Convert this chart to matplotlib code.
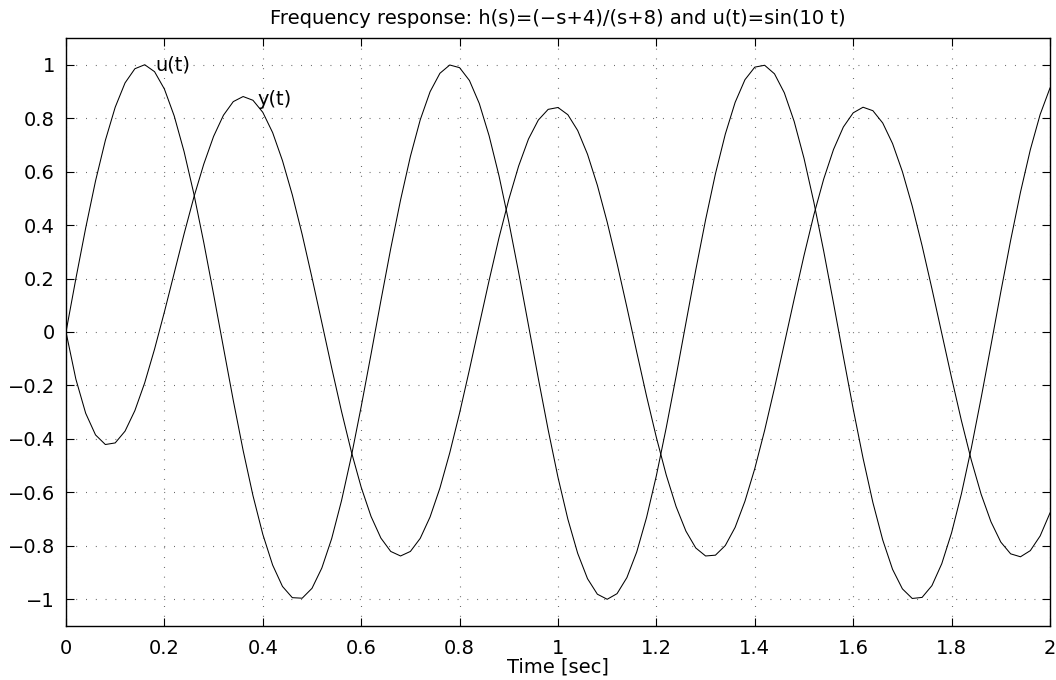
"""Frequency response of h(s)=(-s+4)/(s+8) driven by u(t)=sin(10 t), MATLAB-style look."""

import matplotlib
matplotlib.use("Agg")
import matplotlib.pyplot as plt

# sample times [sec]
t = [
    0.00, 0.02, 0.04, 0.06, 0.08, 0.10, 0.12, 0.14, 0.16, 0.18,
    0.20, 0.22, 0.24, 0.26, 0.28, 0.30, 0.32, 0.34, 0.36, 0.38,
    0.40, 0.42, 0.44, 0.46, 0.48, 0.50, 0.52, 0.54, 0.56, 0.58,
    0.60, 0.62, 0.64, 0.66, 0.68, 0.70, 0.72, 0.74, 0.76, 0.78,
    0.80, 0.82, 0.84, 0.86, 0.88, 0.90, 0.92, 0.94, 0.96, 0.98,
    1.00, 1.02, 1.04, 1.06, 1.08, 1.10, 1.12, 1.14, 1.16, 1.18,
    1.20, 1.22, 1.24, 1.26, 1.28, 1.30, 1.32, 1.34, 1.36, 1.38,
    1.40, 1.42, 1.44, 1.46, 1.48, 1.50, 1.52, 1.54, 1.56, 1.58,
    1.60, 1.62, 1.64, 1.66, 1.68, 1.70, 1.72, 1.74, 1.76, 1.78,
    1.80, 1.82, 1.84, 1.86, 1.88, 1.90, 1.92, 1.94, 1.96, 1.98,
    2.00,
]

# input u(t)
u = [
    0.000, 0.199, 0.389, 0.565, 0.717, 0.841, 0.932, 0.985, 1.000, 0.974,
    0.909, 0.808, 0.675, 0.516, 0.335, 0.141, -0.058, -0.256, -0.443, -0.612,
    -0.757, -0.872, -0.952, -0.994, -0.996, -0.959, -0.883, -0.773, -0.631, -0.465,
    -0.279, -0.083, 0.117, 0.312, 0.494, 0.657, 0.794, 0.899, 0.968, 0.999,
    0.989, 0.941, 0.855, 0.734, 0.585, 0.412, 0.223, 0.025, -0.174, -0.366,
    -0.544, -0.700, -0.828, -0.923, -0.981, -1.000, -0.979, -0.919, -0.823, -0.694,
    -0.537, -0.358, -0.166, 0.034, 0.232, 0.420, 0.592, 0.740, 0.859, 0.944,
    0.991, 0.998, 0.966, 0.895, 0.788, 0.650, 0.486, 0.303, 0.108, -0.092,
    -0.288, -0.472, -0.638, -0.778, -0.888, -0.961, -0.997, -0.993, -0.949, -0.867,
    -0.751, -0.605, -0.435, -0.247, -0.050, 0.150, 0.343, 0.523, 0.682, 0.814,
    0.913,
]

# output y(t)
y = [
    0.000, -0.176, -0.304, -0.385, -0.421, -0.415, -0.371, -0.294, -0.190, -0.064,
    0.075, 0.221, 0.367, 0.505, 0.628, 0.732, 0.811, 0.862, 0.881, 0.867,
    0.822, 0.746, 0.641, 0.513, 0.365, 0.203, 0.035, -0.134, -0.297, -0.448,
    -0.581, -0.690, -0.771, -0.821, -0.838, -0.821, -0.772, -0.692, -0.584, -0.452,
    -0.303, -0.141, 0.027, 0.193, 0.352, 0.496, 0.621, 0.722, 0.793, 0.833,
    0.840, 0.813, 0.754, 0.665, 0.549, 0.411, 0.257, 0.093, -0.075, -0.240,
    -0.395, -0.535, -0.653, -0.745, -0.808, -0.838, -0.835, -0.799, -0.731, -0.633,
    -0.511, -0.368, -0.210, -0.044, 0.123, 0.286, 0.438, 0.572, 0.683, 0.767,
    0.820, 0.841, 0.828, 0.782, 0.705, 0.600, 0.471, 0.323, 0.162, -0.005,
    -0.172, -0.332, -0.479, -0.607, -0.710, -0.786, -0.830, -0.841, -0.818, -0.763,
    -0.677,
]

x_ticks = [0, 0.2, 0.4, 0.6, 0.8, 1.0, 1.2, 1.4, 1.6, 1.8, 2.0]
x_tick_labels = ["0", "0.2", "0.4", "0.6", "0.8", "1", "1.2", "1.4", "1.6", "1.8", "2"]
y_ticks = [-1, -0.8, -0.6, -0.4, -0.2, 0, 0.2, 0.4, 0.6, 0.8, 1]
y_tick_labels = ["\u22121", "\u22120.8", "\u22120.6", "\u22120.4", "\u22120.2", "0",
                 "0.2", "0.4", "0.6", "0.8", "1"]

plt.rcParams["font.family"] = ["DejaVu Sans"]
FS = 14

W, H = 1056, 680
fig = plt.figure(figsize=(W / 100, H / 100), dpi=100)
fig.patch.set_facecolor("white")
ax = fig.add_axes([66 / W, 1 - 626 / H, (1050 - 66) / W, (626 - 38) / H])

ax.plot(t, u, color="black", linewidth=0.75)
ax.plot(t, y, color="black", linewidth=0.75)

ax.text(0.181, 1.0, "u(t)", fontsize=FS, ha="left", va="center")
ax.text(0.390, 0.869, "y(t)", fontsize=FS, ha="left", va="center")

ax.set_xlim(0, 2)
ax.set_ylim(-1.1, 1.1)
ax.set_xticks(x_ticks)
ax.set_xticklabels(x_tick_labels)
ax.set_yticks(y_ticks)
ax.set_yticklabels(y_tick_labels)
ax.tick_params(direction="in", length=6, width=0.8, labelsize=FS,
               top=True, right=True)
ax.tick_params(axis="x", pad=9)
ax.tick_params(axis="y", pad=8)
for sp in ax.spines.values():
    sp.set_linewidth(1.0)

ax.grid(True, color="0.35", linewidth=0.8, linestyle=(0, (0.8, 8)))

ax.set_title("Frequency response: h(s)=(\u2212s+4)/(s+8) and u(t)=sin(10 t)",
             fontsize=FS, pad=10)
ax.set_xlabel("Time [sec]", fontsize=FS, labelpad=0)

fig.savefig("out.png", dpi=100, facecolor="white")
